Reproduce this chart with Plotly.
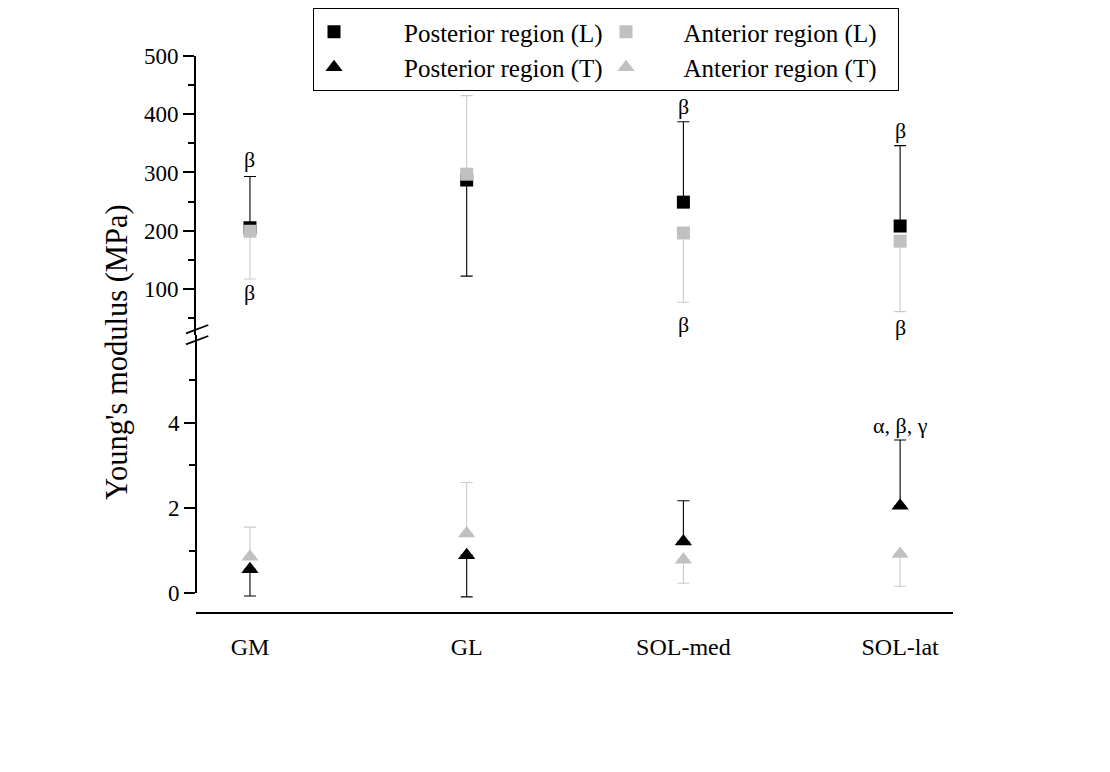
import plotly.graph_objects as go

# ---- data ----
categories = ["GM", "GL", "SOL-med", "SOL-lat"]

post_L = [205, 287, 249, 208]
post_L_plus = [88, 0, 138, 138]
post_L_minus = [0, 165, 0, 0]

ant_L = [199, 297, 196, 182]
ant_L_plus = [0, 135, 0, 0]
ant_L_minus = [82, 0, 119, 121]

post_T = [0.56, 0.89, 1.21, 2.05]
post_T_plus = [0, 0, 0.96, 1.55]
post_T_minus = [0.63, 0.98, 0, 0]

ant_T = [0.85, 1.40, 0.78, 0.92]
ant_T_plus = [0.70, 1.20, 0, 0]
ant_T_minus = [0, 0, 0.55, 0.76]

series_names = ["Posterior region (L)", "Anterior region (L)",
                "Posterior region (T)", "Anterior region (T)"]

# significance labels: (category, y value, text, panel)
sig_labels = [
    ("GM", 322, "β", "y"), ("GM", 93, "β", "y"),
    ("SOL-med", 413, "β", "y"), ("SOL-med", 38, "β", "y"),
    ("SOL-lat", 372, "β", "y"), ("SOL-lat", 33, "β", "y"),
    ("SOL-lat", 3.95, "α, β, γ", "y2"),
]

FONT = "Liberation Serif"
BLACK = "#000000"
GREY = "#c0c0c0"
GREY_BAR = "#cbcbcb"
PAD1 = "\u00a0" * 8
PAD2 = "\u00a0" * 6

fig = go.Figure()

def add(y, plus, minus, name, color, barcolor, symbol, size, yaxis):
    fig.add_trace(go.Scatter(
        x=categories, y=y, mode="markers", name=name,
        yaxis=yaxis, xaxis="x", cliponaxis=False,
        marker=dict(symbol=symbol, size=size, color=color, line=dict(width=0)),
        error_y=dict(type="data", symmetric=False, array=plus, arrayminus=minus,
                     color=barcolor, thickness=1.1, width=6),
    ))

add(post_L, post_L_plus, post_L_minus, PAD1 + series_names[0], BLACK, BLACK, "square", 13, "y")
add(ant_L, ant_L_plus, ant_L_minus, PAD2 + series_names[1], GREY, GREY_BAR, "square", 13, "y")
add(post_T, post_T_plus, post_T_minus, PAD1 + series_names[2], BLACK, BLACK, "triangle-up", 15, "y2")
add(ant_T, ant_T_plus, ant_T_minus, PAD2 + series_names[3], GREY, GREY_BAR, "triangle-up", 15, "y2")

for cat, yv, txt, ax in sig_labels:
    fig.add_annotation(x=cat, y=yv, xref="x", yref=ax, text=txt, showarrow=False,
                       font=dict(family=FONT, size=22, color="black"),
                       xanchor="center", yanchor="middle")

# y-axis title
fig.add_annotation(x=-0.1044, y=0.4686, xref="paper", yref="paper",
                   text="Young's modulus (MPa)", textangle=-90, showarrow=False,
                   font=dict(family=FONT, size=30.5, color="black"),
                   xanchor="center", yanchor="middle")

# axis break marks (paper coordinates)
L, R, T, B = 196, 953, 56, 613
W, H = 1110, 772
def px(xp):
    return (xp - L) / (R - L)
def py(yp):
    return (B - yp) / (B - T)
for y1, y2 in [(333.3, 325.0), (344.3, 336.0)]:
    fig.add_shape(type="line", xref="paper", yref="paper",
                  x0=px(186), y0=py(y1), x1=px(208.3), y1=py(y2),
                  line=dict(color="black", width=1.8))

split = py(335)
low_min, low_max = -0.12, 6.07
low_bottom_px = 593 - low_min * (593 - 335) / low_max  # pixel of lower range minimum

# lower y-axis line runs from 0 up to the break
fig.add_shape(type="line", xref="paper", yref="y2", x0=0, x1=0, y0=0, y1=low_max,
              line=dict(color="black", width=2))

tick_common = dict(ticks="outside", ticklen=11, tickwidth=1.5, tickcolor="black",
                   showgrid=False, zeroline=False,
                   tickfont=dict(family=FONT, size=23, color="black"))

fig.update_layout(
    width=W, height=H,
    margin=dict(l=L, r=W - R, t=T, b=H - B, autoexpand=False),
    paper_bgcolor="white", plot_bgcolor="white",
    xaxis=dict(type="category", range=[-0.249, 3.244], anchor="free", position=0,
               showline=True, linecolor="black", linewidth=2, ticks="",
               showgrid=False, zeroline=False, ticklabelstandoff=12,
               tickfont=dict(family=FONT, size=24, color="black")),
    yaxis=dict(domain=[split, 1], range=[20.8, 500], anchor="x",
               showline=True, linecolor="black", linewidth=2,
               tickvals=[100, 200, 300, 400, 500],
               minor=dict(dtick=50, ticklen=6, tickwidth=1.5, tickcolor="black", ticks="outside"),
               **tick_common),
    yaxis2=dict(domain=[py(low_bottom_px), split], range=[low_min, low_max], anchor="x",
                showline=False,
                tickvals=[0, 2, 4],
                minor=dict(tickvals=[1, 3, 5], ticklen=6, tickwidth=1.5, tickcolor="black", ticks="outside"),
                **tick_common),
    showlegend=True,
    legend=dict(orientation="h", xref="container", yref="container",
                x=313 / W, y=1 - 8 / H, xanchor="left", yanchor="top",
                bordercolor="black", borderwidth=1, bgcolor="white",
                entrywidth=247, entrywidthmode="pixels",
                font=dict(family=FONT, size=25, color="black"),
                itemwidth=30, tracegroupgap=0),
)

fig.write_html("out.html")
